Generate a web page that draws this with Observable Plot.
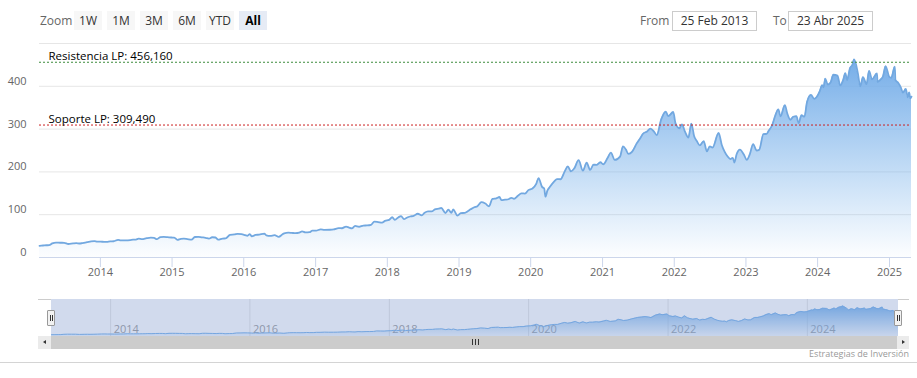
<!DOCTYPE html>
<html><head><meta charset="utf-8">
<script src="https://cdn.jsdelivr.net/npm/d3@7"></script>
<script src="https://cdn.jsdelivr.net/npm/@observablehq/plot@0.6"></script>
<style>
body{margin:0;background:#fff;font-family:"Open Sans",sans-serif;}
#wrap{position:relative;width:917px;height:378px;overflow:hidden;background:#fff;}
.a{position:absolute;}
.btn{position:absolute;top:11px;height:19px;width:28px;background:#f7f7f7;color:#333;font-size:12px;line-height:19px;text-align:center;}
.btn.sel{background:#e6ebf5;color:#000;font-weight:bold;}
.lbl{position:absolute;top:11px;height:20px;line-height:20px;font-size:12px;color:#666;}
.box{position:absolute;top:11px;height:18px;width:83px;border:1px solid #ccc;font-size:12px;line-height:18px;color:#333;text-align:center;}
svg{position:absolute;left:0;overflow:visible;}
</style>
</head><body><div id="wrap"></div>
<script>
// ---- data ----
const dates = ["2013-02-25","2013-03-15","2013-04-01","2013-04-15","2013-05-01","2013-05-20","2013-06-10","2013-07-01","2013-07-22","2013-08-15","2013-09-01","2013-09-15","2013-10-01","2013-10-25","2013-11-15","2013-12-02","2013-12-16",
"2014-01-02","2014-01-20","2014-02-03","2014-02-20","2014-03-10","2014-04-01","2014-04-15","2014-05-01","2014-06-02","2014-06-16","2014-07-01","2014-07-15","2014-08-01","2014-08-25","2014-09-15","2014-10-01","2014-10-15","2014-11-03","2014-11-20","2014-12-08","2014-12-29",
"2015-01-12","2015-01-28","2015-02-15","2015-03-02","2015-03-20","2015-04-10","2015-04-27","2015-05-15","2015-06-01","2015-06-20","2015-07-08","2015-07-24","2015-08-10","2015-08-24","2015-09-15","2015-10-01","2015-10-23","2015-11-15","2015-12-01","2015-12-20",
"2016-01-08","2016-01-20","2016-02-01","2016-02-11","2016-03-01","2016-03-20","2016-04-15","2016-04-25","2016-05-15","2016-06-06","2016-06-27","2016-07-15","2016-07-25","2016-08-15","2016-09-01","2016-09-20","2016-10-10","2016-10-24","2016-11-10","2016-12-01","2016-12-15",
"2017-01-03","2017-01-27","2017-02-15","2017-03-15","2017-04-03","2017-04-28","2017-05-15","2017-06-05","2017-06-20","2017-07-05","2017-07-21","2017-08-10","2017-09-01","2017-09-20","2017-10-10","2017-10-27","2017-11-15","2017-12-05","2017-12-20",
"2018-01-10","2018-01-26","2018-02-08","2018-02-27","2018-03-12","2018-03-27","2018-04-10","2018-04-27","2018-05-15","2018-06-05","2018-06-25","2018-07-10","2018-07-27","2018-08-15","2018-08-31","2018-09-20","2018-10-03","2018-10-24","2018-11-08","2018-11-23","2018-12-03","2018-12-24",
"2019-01-10","2019-01-31","2019-02-15","2019-03-01","2019-03-20","2019-04-05","2019-04-25","2019-05-15","2019-06-03","2019-06-20","2019-07-10","2019-07-26","2019-08-05","2019-08-23","2019-09-10","2019-09-25","2019-10-08","2019-10-28","2019-11-15","2019-12-03","2019-12-20",
"2020-01-10","2020-01-30","2020-02-10","2020-02-28","2020-03-10","2020-03-16","2020-03-26","2020-04-08","2020-04-29","2020-05-15","2020-06-01","2020-06-23","2020-07-08","2020-07-24","2020-08-10","2020-09-01","2020-09-23","2020-10-12","2020-10-30","2020-11-16","2020-12-01","2020-12-21",
"2021-01-04","2021-01-27","2021-02-12","2021-03-04","2021-03-31","2021-04-15","2021-04-30","2021-05-12","2021-06-01","2021-06-24","2021-07-15","2021-07-26","2021-08-16","2021-09-02","2021-09-20","2021-10-04","2021-10-27","2021-11-19","2021-12-01","2021-12-27",
"2022-01-07","2022-01-27","2022-02-09","2022-02-24","2022-03-14","2022-03-29","2022-04-12","2022-04-26","2022-05-11","2022-05-31","2022-06-16","2022-07-01","2022-07-15","2022-08-15","2022-08-31","2022-09-15","2022-09-30","2022-10-14","2022-10-26","2022-11-03","2022-11-15","2022-12-01","2022-12-22",
"2023-01-05","2023-01-20","2023-02-07","2023-02-24","2023-03-10","2023-03-31","2023-04-17","2023-04-26","2023-05-15","2023-05-30","2023-06-15","2023-06-26","2023-07-18","2023-07-31","2023-08-15","2023-08-30","2023-09-15","2023-09-26","2023-10-11","2023-10-26","2023-11-08","2023-11-28","2023-12-15","2023-12-29",
"2024-01-12","2024-01-24","2024-01-31","2024-02-09","2024-02-21","2024-03-07","2024-03-21","2024-04-11","2024-04-25","2024-05-10","2024-05-21","2024-05-30","2024-06-14","2024-06-26","2024-07-05","2024-07-24","2024-08-05","2024-08-19","2024-09-06","2024-09-19","2024-10-04","2024-10-29","2024-11-01","2024-11-15","2024-11-29","2024-12-12","2024-12-31",
"2025-01-10","2025-01-28","2025-01-31","2025-02-14","2025-02-28","2025-03-10","2025-03-25","2025-04-04","2025-04-11","2025-04-17","2025-04-23"];
const closes = [27.4,28.0,28.6,28.7,32.9,34.9,34.5,34.4,31.6,32.8,33.4,32.7,33.6,35.7,37.8,38.3,36.9,
37.2,36.4,36.5,37.8,38.0,41.4,39.8,40.0,40.8,41.6,41.9,44.0,42.9,45.2,46.4,45.9,42.7,47.7,48.0,47.5,46.7,
46.5,41.2,43.5,43.9,42.9,41.7,47.9,48.3,47.2,46.1,44.3,47.3,46.7,41.7,44.3,44.6,52.9,53.9,55.2,54.5,
52.3,50.8,54.7,49.7,52.6,53.5,55.7,51.8,50.5,52.1,48.4,53.7,56.6,58.1,57.6,56.8,58.0,60.9,58.7,59.2,62.6,
62.6,65.8,64.5,64.8,65.6,68.5,68.4,72.3,69.9,68.2,73.8,71.8,74.7,74.9,76.3,83.8,82.9,81.6,85.5,
87.8,94.1,88.0,94.2,96.8,89.5,92.9,95.8,97.2,102.2,98.4,104.4,107.7,107.7,112.3,114.3,115.6,104.0,111.8,104.5,112.1,98.0,
103.6,104.4,108.2,112.5,117.5,119.9,129.2,126.0,119.8,136.9,138.4,141.3,134.0,135.0,136.1,139.4,137.0,144.2,149.9,149.3,157.4,
161.3,172.8,185.5,165.0,160.9,142.0,156.1,165.1,177.4,183.2,182.8,201.9,212.8,201.3,208.3,227.3,203.0,221.4,204.5,217.2,216.2,222.6,
217.7,232.9,244.9,228.0,235.8,259.5,252.2,242.0,247.4,266.7,281.0,289.1,294.6,301.2,294.3,286.0,323.2,341.0,330.1,340.0,
314.0,302.0,311.2,294.6,280.0,313.0,284.0,272.0,262.0,271.9,248.0,259.6,256.7,291.0,263.0,247.0,236.0,230.0,233.0,222.0,241.7,252.0,240.0,
228.0,240.2,265.0,250.0,252.0,288.3,288.8,295.4,309.5,331.2,346.0,330.0,356.0,335.9,321.9,328.8,330.2,314.0,332.4,329.0,363.2,380.0,370.7,376.0,
388.5,402.6,397.6,418.0,404.0,409.1,427.0,425.0,402.0,414.7,430.5,414.7,442.6,450.0,463.0,430.0,400.0,421.5,405.0,436.0,416.1,430.0,410.4,415.0,423.5,447.0,422.0,
420.0,446.0,415.1,408.4,397.0,385.0,394.0,374.0,386.0,372.0,376.0];
const rangeStart = "2013-02-25", rangeEnd = "2025-04-23";
const resistanceValue = 456.16, supportValue = 309.49;
const resistanceName = "Resistencia LP", supportName = "Soporte LP";
const yTickValues = [0, 100, 200, 300, 400];
const yGridValues = [100, 200, 300, 400, 500];
const xTickYears = [2014,2015,2016,2017,2018,2019,2020,2021,2022,2023,2024,2025];
const navTickYears = [2014,2016,2018,2020,2022,2024];
const zoomButtons = ["1W","1M","3M","6M","YTD","All"];
const fromLabel = "25 Feb 2013", toLabel = "23 Abr 2025";
const creditText = "Estrategias de Inversión";

// ---- build ----
const parse = d3.utcParse("%Y-%m-%d");
const data = dates.map((d, i) => ({date: parse(d), close: closes[i]}));
const domainX = [parse(rangeStart), parse(rangeEnd)];
const yr = y => new Date(Date.UTC(y, 0, 1));
const fmtNum = v => v.toFixed(3).replace(".", ",");
const wrap = document.getElementById("wrap");

function el(cls, css, text) {
  const e = document.createElement("div");
  e.className = cls; Object.assign(e.style, css || {});
  if (text != null) e.textContent = text;
  wrap.appendChild(e); return e;
}
// header
el("lbl", {left: "40px"}, "Zoom");
zoomButtons.forEach((b, i) => el("btn" + (b === "All" ? " sel" : ""), {left: (74 + i * 33) + "px"}, b));
el("lbl", {left: "640px"}, "From");
el("box", {left: "672px"}, fromLabel);
el("lbl", {left: "773px"}, "To");
el("box", {left: "788px"}, toLabel);

function addGradient(svg, id, c0, o0, c1, o1) {
  const ns = "http://www.w3.org/2000/svg";
  const defs = document.createElementNS(ns, "defs");
  const g = document.createElementNS(ns, "linearGradient");
  g.setAttribute("id", id); g.setAttribute("x1", 0); g.setAttribute("y1", 0); g.setAttribute("x2", 0); g.setAttribute("y2", 1);
  [[0, c0, o0], [1, c1, o1]].forEach(([off, c, o]) => {
    const s = document.createElementNS(ns, "stop");
    s.setAttribute("offset", off); s.setAttribute("stop-color", c); s.setAttribute("stop-opacity", o);
    g.appendChild(s);
  });
  defs.appendChild(g); svg.insertBefore(defs, svg.firstChild);
}

// main chart
const main = Plot.plot({
  width: 917, height: 240,
  marginTop: 3, marginBottom: 23, marginLeft: 39, marginRight: 6,
  style: {fontFamily: "'Open Sans', sans-serif", fontSize: "11px", color: "#666", background: "transparent", overflow: "visible"},
  x: {type: "utc", domain: domainX},
  y: {domain: [0, 500]},
  marks: [
    Plot.gridY(yGridValues, {stroke: "#e6e6e6", strokeOpacity: 1}),
    Plot.areaY(data, {x: "date", y: "close", fill: "url(#gMain)", curve: "monotone-x"}),
    Plot.lineY(data, {x: "date", y: "close", stroke: "#72a8e0", strokeWidth: 1.8, curve: "monotone-x"}),
    Plot.ruleY([resistanceValue], {stroke: "#3c8c3c", strokeDasharray: "2,2", strokeWidth: 1}),
    Plot.ruleY([supportValue], {stroke: "#cc2020", strokeDasharray: "2,2", strokeWidth: 1}),
    Plot.text([{v: resistanceValue, t: `${resistanceName}: ${fmtNum(resistanceValue)}`}, {v: supportValue, t: `${supportName}: ${fmtNum(supportValue)}`}],
      {y: "v", text: "t", frameAnchor: "left", textAnchor: "start", dx: 9, dy: -6, fill: "#000", fontSize: 11.5}),
    Plot.ruleY([0], {stroke: "#ccd6eb"}),
    Plot.axisX(xTickYears.map(yr), {tickFormat: d => String(d.getUTCFullYear()), tickSize: 10, tickPadding: 1, stroke: "#ccd6eb", fill: "#666"}),
    Plot.axisY(yTickValues, {tickSize: 0, tickPadding: 13, dy: -5, fill: "#666"})
  ]
});
main.style.top = "40px";
addGradient(main, "gMain", "#75ade8", 1, "#7cb5ec", 0.02);
wrap.appendChild(main);

// navigator
const nav = Plot.plot({
  width: 917, height: 37,
  marginTop: 0, marginBottom: 0, marginLeft: 51, marginRight: 19,
  style: {fontFamily: "'Open Sans', sans-serif", fontSize: "11px", background: "transparent", overflow: "visible"},
  x: {type: "utc", domain: domainX, axis: null},
  y: {domain: [0, 560], axis: null},
  marks: [
    Plot.ruleX(navTickYears.map(yr), {stroke: "#e6e6e6"}),
    Plot.text(navTickYears.map(yr), {x: d => d, text: d => String(d.getUTCFullYear()), frameAnchor: "bottom", textAnchor: "start", dx: 3, dy: -4, fill: "#a0a0a0", fontSize: 11}),
    Plot.areaY(data, {x: "date", y: "close", fill: "url(#gNav)"}),
    Plot.lineY(data, {x: "date", y: "close", stroke: "#7cb5ec", strokeWidth: 1}),
    Plot.rect([{from: domainX[0], to: domainX[1]}], {x1: "from", x2: "to", fill: "rgb(102,133,194)", fillOpacity: 0.3})
  ]
});
nav.style.top = "299px";
addGradient(nav, "gNav", "#7cb5ec", 1, "#7cb5ec", 0.1);
wrap.appendChild(nav);

// navigator outline, handles, scrollbar
el("a", {left: "38px", top: "299px", width: "13px", height: "1px", background: "#cccccc"});
el("a", {left: "898px", top: "299px", width: "11px", height: "1px", background: "#cccccc"});
function handle(cx) {
  const h = el("a", {left: (cx - 4) + "px", top: "310px", width: "6px", height: "14px", background: "#f2f2f2", border: "1px solid #999", borderRadius: "1px"});
  [1.5, 3.5].forEach(x => { const l = document.createElement("div"); Object.assign(l.style, {position: "absolute", left: x + "px", top: "4px", width: "1px", height: "6px", background: "#333"}); h.appendChild(l); });
}
handle(51); handle(898);
el("a", {left: "38px", top: "336px", width: "871px", height: "13px", background: "#f2f2f2"});
el("a", {left: "38px", top: "336px", width: "13px", height: "13px", background: "#ebebeb"});
el("a", {left: "897px", top: "336px", width: "12px", height: "13px", background: "#ebebeb"});
el("a", {left: "51px", top: "336px", width: "846px", height: "13px", background: "#cccccc"});
// arrows
el("a", {left: "43px", top: "340px", width: 0, height: 0, borderTop: "2.5px solid transparent", borderBottom: "2.5px solid transparent", borderRight: "3px solid #333"});
el("a", {left: "902px", top: "340px", width: 0, height: 0, borderTop: "2.5px solid transparent", borderBottom: "2.5px solid transparent", borderLeft: "3px solid #333"});
[472, 475, 478].forEach(x => el("a", {left: x + "px", top: "339px", width: "1px", height: "6px", background: "#333"}));
// bottom line and credits
el("a", {left: "0px", top: "362px", width: "917px", height: "1px", background: "#d4d4d4"});
el("a", {right: "8px", top: "347px", fontSize: "9px", color: "#999", whiteSpace: "nowrap"}, creditText);
</script>
</body></html>
